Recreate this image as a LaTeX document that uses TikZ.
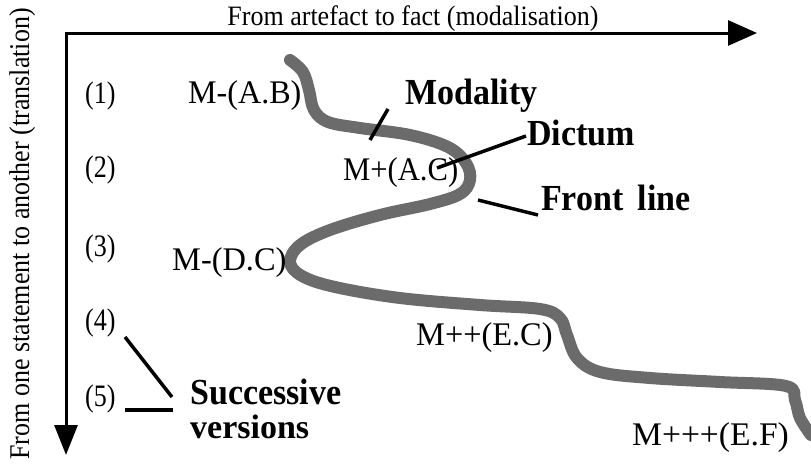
\documentclass[tikz,border=0pt]{standalone}
\usepackage{fontspec}
\setmainfont{Liberation Serif}
\usetikzlibrary{arrows.meta}
\newcommand{\tallx}[2]{\scalebox{1}[#1]{#2}}
\begin{document}
\begin{tikzpicture}[x=1pt,y=-1pt,
  reg/.style={font=\fontsize{26}{26}\selectfont, inner sep=0pt},
  num/.style={reg, anchor=base west},
  mlab/.style={font=\fontsize{30}{30}\selectfont, anchor=base west, inner sep=0pt},
  blab/.style={font=\fontsize{34}{32}\selectfont\bfseries, anchor=base west, inner sep=0pt},
  ptr/.style={line width=3.5pt},
  frontline/.style={line width=12pt, black!58, line cap=round, line join=round}]
\useasboundingbox (0,0) rectangle (811,469);

% axes
\coordinate (O) at (66,33);
\coordinate (xend) at (757,33);
\coordinate (yend) at (66,455);
\draw[line width=3pt, line join=miter,
  {Triangle[length=29pt,width=25pt]}-{Triangle[length=30pt,width=23pt]}]
  (xend) -- (O) -- (yend);

\node[reg, anchor=base] (top) at (413,25) {\tallx{1.08}{From artefact to fact (modalisation)}};
\node[reg, rotate=90, anchor=base] (side) at (29,234) {\tallx{1.1}{From one statement to another (translation)}};

% front line curve
\draw[frontline] plot[smooth, tension=0.6] coordinates {
 (290,60) (303,72) (309,90) (314,110) (328,122) (360,128) (410,135) (448,147)
 (466,163) (470,180) (460,194) (430,204) (380,215) (330,230) (300,245) (290,262)
 (302,276) (335,287) (400,298) (480,305) (540,309) (560,318) (567,335) (577,358)
 (600,372) (650,378) (720,382) (786,386) (795,400) (800,418) (811,435)};

% numbers
\node[num] (n1) at (85,103) {\tallx{1.2}{(1)}};
\node[num] (n2) at (85,177) {\tallx{1.2}{(2)}};
\node[num] (n3) at (85,256) {\tallx{1.2}{(3)}};
\node[num] (n4) at (85,330) {\tallx{1.2}{(4)}};
\node[num] (n5) at (85,406) {\tallx{1.2}{(5)}};

% statements
\node[mlab] (s1) at (188,103) {\scalebox{1.07}[1.1]{M-(A.B)}};
\node[mlab] (s2) at (343,180) {\scalebox{1.02}[1.1]{M+(A.C)}};
\node[mlab] (s3) at (172,270) {\scalebox{1.08}[1.1]{M-(D.C)}};
\node[mlab] (s4) at (416,345) {\scalebox{1.08}[1.1]{M++(E.C)}};
\node[mlab] (s5) at (632,445) {\scalebox{1.12}[1.1]{M+++(E.F)}};

% bold labels
\node[blab] (mod) at (405,104) {\tallx{1.08}{Modality}};
\node[blab] (dic) at (527,145) {\tallx{1.08}{Dictum}};
\node[blab] (fro) at (541,210) {\tallx{1.08}{Front\, line}};
\node[blab] (suc) at (190,404) {\tallx{1.08}{Successive}};
\node[blab] (ver) at (190,438) {\tallx{1.0}{versions}};

% pointers
\coordinate (m1) at (388,109); \coordinate (m2) at (370,140);
\draw[ptr] (m1) -- (m2);
\coordinate (d1) at (526,136); \coordinate (d2) at (437,168);
\draw[ptr] (d1) -- (d2);
\coordinate (f1) at (478,200); \coordinate (f2) at (538,215);
\draw[ptr] (f1) -- (f2);
\coordinate (v1) at (125,337); \coordinate (v2) at (172,397);
\draw[ptr] (v1) -- (v2);
\coordinate (v3) at (125,410); \coordinate (v4) at (173,410);
\draw[ptr] (v3) -- (v4);
\end{tikzpicture}
\end{document}
